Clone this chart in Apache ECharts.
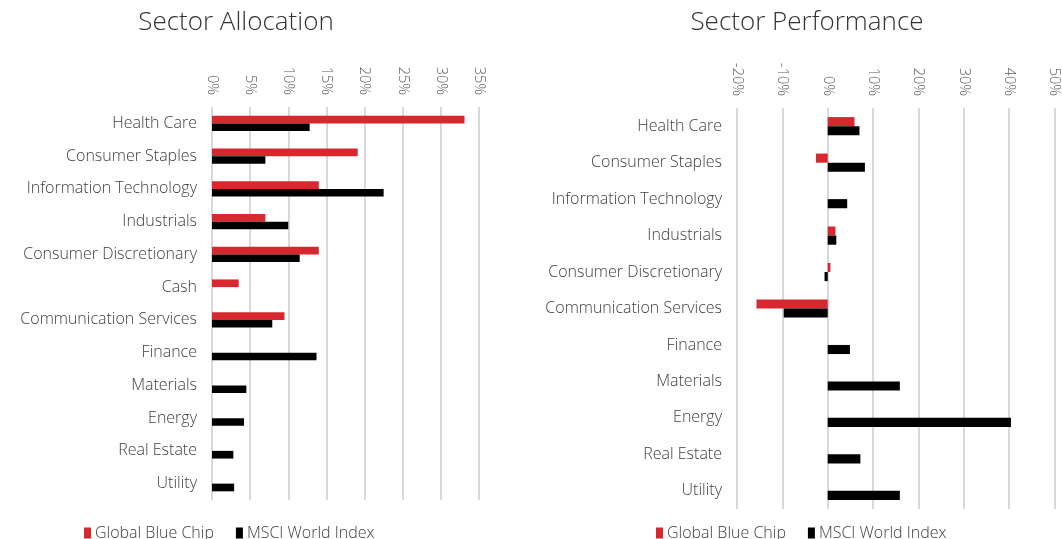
<!DOCTYPE html>
<html>
<head>
<meta charset="utf-8">
<script src="https://cdn.jsdelivr.net/npm/echarts@6/dist/echarts.min.js"></script>
<style>
  html, body { margin: 0; padding: 0; background: #fff; }
  #chart { width: 1062px; height: 539px; }
</style>
</head>
<body>
<div id="chart"></div>
<script>
// allocation (%)
const allocCategories = [
  'Health Care', 'Consumer Staples', 'Information Technology', 'Industrials',
  'Consumer Discretionary', 'Cash', 'Communication Services', 'Finance',
  'Materials', 'Energy', 'Real Estate', 'Utility'
]
const allocFund = [33.1, 19.1, 14.0, 7.0, 14.0, 3.5, 9.5, null, null, null, null, null]
const allocIndex = [12.8, 7.0, 22.5, 10.0, 11.5, null, 7.9, 13.7, 4.5, 4.2, 2.8, 2.9]

// performance (%)
const perfCategories = [
  'Health Care', 'Consumer Staples', 'Information Technology', 'Industrials',
  'Consumer Discretionary', 'Communication Services', 'Finance',
  'Materials', 'Energy', 'Real Estate', 'Utility'
]
const perfFund = [5.9, -2.6, null, 1.7, 0.6, -15.7, null, null, null, null, null]
const perfIndex = [7.0, 8.2, 4.3, 1.9, -0.7, -9.7, 4.9, 15.9, 40.4, 7.2, 15.9]

const seriesNames = ['Global Blue Chip', 'MSCI World Index']
const RED = '#d7282f'
const BLACK = '#000000'
const FONT = '"Open Sans"'

const chart = echarts.init(document.getElementById('chart'))

const catAxis = (gridIndex, data) => ({
  type: 'category',
  gridIndex,
  data,
  inverse: true,
  axisLine: { show: false },
  axisTick: { show: false },
  axisLabel: { color: '#404040', fontSize: 16, fontFamily: FONT, fontWeight: 300, margin: 15 },
})

const valAxis = (gridIndex, min, max, interval) => ({
  type: 'value',
  gridIndex,
  position: 'top',
  min, max, interval,
  axisLine: { show: false },
  axisTick: { show: false },
  axisLabel: {
    rotate: 90, color: '#595959', fontSize: 14.5, fontFamily: FONT, fontWeight: 300,
    margin: 12, formatter: '{value}%'
  },
  splitLine: { lineStyle: { color: '#d9d9d9', width: 2 } },
})

const bar = (name, color, data, idx, gap) => ({
  name,
  type: 'bar',
  xAxisIndex: idx,
  yAxisIndex: idx,
  data,
  barGap: '0%',
  barCategoryGap: gap,
  itemStyle: { color },
})

chart.setOption({
  animation: false,
  title: [
    { text: 'Sector Allocation', left: 231, top: 5, textAlign: 'center',
      textStyle: { fontSize: 26, fontWeight: 300, color: '#333', fontFamily: FONT } },
    { text: 'Sector Performance', left: 802, top: 5, textAlign: 'center',
      textStyle: { fontSize: 26, fontWeight: 300, color: '#333', fontFamily: FONT } },
  ],
  legend: [
    { data: seriesNames, left: 79, top: 520, itemWidth: 7, itemHeight: 11, itemGap: 22,
      icon: 'rect', textStyle: { fontSize: 16, color: '#404040', fontFamily: FONT, fontWeight: 300, padding: [0, 0, 0, -1] } },
    { data: seriesNames, left: 651, top: 520, itemWidth: 7, itemHeight: 11, itemGap: 22,
      icon: 'rect', textStyle: { fontSize: 16, color: '#404040', fontFamily: FONT, fontWeight: 300, padding: [0, 0, 0, -1] } },
  ],
  grid: [
    { left: 212, right: 583, top: 107, bottom: 39 },
    { left: 737, right: 7, top: 108, bottom: 30 },
  ],
  xAxis: [valAxis(0, 0, 35, 5), valAxis(1, -20, 50, 10)],
  yAxis: [catAxis(0, allocCategories), catAxis(1, perfCategories)],
  series: [
    bar(seriesNames[0], RED, allocFund, 0, '53%'),
    bar(seriesNames[1], BLACK, allocIndex, 0, '53%'),
    bar(seriesNames[0], RED, perfFund, 1, '50%'),
    bar(seriesNames[1], BLACK, perfIndex, 1, '50%'),
  ],
})
</script>
</body>
</html>
